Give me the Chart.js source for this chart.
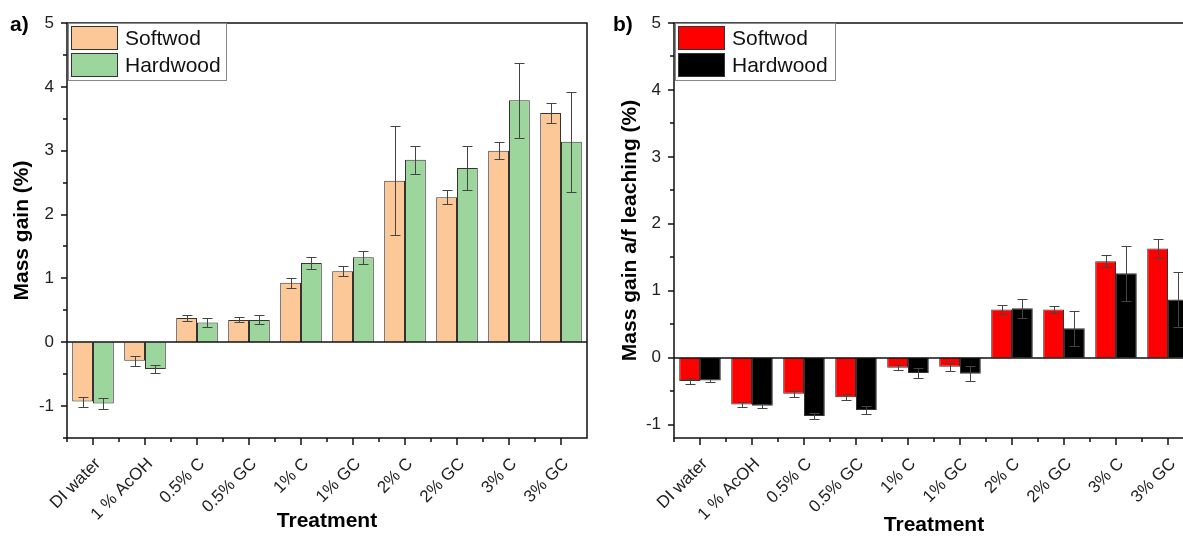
<!DOCTYPE html>
<html lang="en">
<head>
    <meta charset="UTF-8">
    <title>Mass gain by treatment</title>
    <script src="https://cdn.jsdelivr.net/npm/chart.js"></script>
    <style>
        html, body { margin: 0; padding: 0; overflow: hidden; background: #fff; width: 1183px; height: 538px; }
        canvas { position: absolute; top: 0; }
        #chartA { left: 0; }
        #chartB { left: 600px; }
    </style>
</head>
<body>
<canvas id="chartA" width="600" height="538"></canvas>
<canvas id="chartB" width="594" height="538"></canvas>

<script>
    // treatments on the x axis
    const categories = ['DI water', '1 % AcOH', '0.5% C', '0.5% GC', '1% C', '1% GC', '2% C', '2% GC', '3% C', '3% GC'];
    const seriesNames = ['Softwod', 'Hardwood'];
    const yTickLabels = [-1, 0, 1, 2, 3, 4, 5];

    // a) mass gain (%)
    const gainSoft    = [-0.93, -0.29, 0.38, 0.35, 0.93, 1.11, 2.53, 2.27, 3.00, 3.59];
    const gainSoftErr = [0.08, 0.08, 0.05, 0.04, 0.08, 0.08, 0.85, 0.11, 0.13, 0.16];
    const gainHard    = [-0.96, -0.42, 0.31, 0.35, 1.24, 1.33, 2.86, 2.73, 3.79, 3.14];
    const gainHardErr = [0.08, 0.06, 0.07, 0.07, 0.09, 0.10, 0.22, 0.34, 0.59, 0.78];

    // b) mass gain after leaching (%)
    const leachSoft    = [-0.35, -0.70, -0.54, -0.59, -0.15, -0.135, 0.72, 0.72, 1.44, 1.63];
    const leachSoftErr = [0.05, 0.04, 0.04, 0.045, 0.04, 0.06, 0.07, 0.05, 0.09, 0.14];
    const leachHard    = [-0.34, -0.72, -0.87, -0.78, -0.23, -0.24, 0.74, 0.44, 1.26, 0.87];
    const leachHardErr = [0.02, 0.03, 0.05, 0.06, 0.07, 0.11, 0.14, 0.26, 0.41, 0.41];

    const FONT = "'Liberation Sans', Arial, sans-serif";

    // frame, ticks, zero line, error bars, legend and panel letter
    const decorations = {
        id: 'decorations',
        afterDatasetsDraw(chart, args, opts) {
            const ctx = chart.ctx;
            const a = chart.chartArea;
            const x = chart.scales.x, y = chart.scales.y;
            ctx.save();

            // error bars
            chart.data.datasets.forEach((ds, i) => {
                const meta = chart.getDatasetMeta(i);
                meta.data.forEach((bar, j) => {
                    const v = ds.data[j], e = ds.errors[j];
                    const y1 = Math.round(y.getPixelForValue(v + e)), y2 = Math.round(y.getPixelForValue(v - e));
                    const bx = Math.round(bar.x) + 0.5;
                    ctx.strokeStyle = opts.errColor;
                    ctx.lineWidth = 1;
                    ctx.beginPath();
                    ctx.moveTo(bx, y1); ctx.lineTo(bx, y2);
                    ctx.moveTo(bx - 5, y1 + 0.5); ctx.lineTo(bx + 5, y1 + 0.5);
                    ctx.moveTo(bx - 5, y2 + 0.5); ctx.lineTo(bx + 5, y2 + 0.5);
                    ctx.stroke();
                });
            });

            ctx.strokeStyle = '#111';
            ctx.lineWidth = 1.5;
            // zero line
            const y0 = Math.round(y.getPixelForValue(0));
            ctx.beginPath();
            ctx.moveTo(a.left, y0); ctx.lineTo(a.right, y0);
            ctx.stroke();

            // frame
            ctx.beginPath();
            ctx.rect(a.left, a.top, a.right - a.left, a.bottom - a.top);
            ctx.stroke();

            // y ticks (major at integers, minor at halves)
            ctx.beginPath();
            for (let v = Math.ceil(y.min * 2) / 2; v <= y.max + 1e-9; v += 0.5) {
                const py = Math.round(y.getPixelForValue(v));
                const len = Math.abs(v - Math.round(v)) < 1e-6 ? 6 : 4;
                ctx.moveTo(a.left - len, py); ctx.lineTo(a.left, py);
            }
            // x ticks (major at centres, minor at boundaries)
            const n = chart.data.labels.length;
            const step = x.getPixelForValue(1) - x.getPixelForValue(0);
            for (let i = 0; i < n; i++) {
                const px = Math.round(x.getPixelForValue(i));
                ctx.moveTo(px, a.bottom); ctx.lineTo(px, a.bottom + 7);
                const bx = Math.round(px - step / 2);
                ctx.moveTo(bx, a.bottom); ctx.lineTo(bx, a.bottom + 4);
            }
            ctx.stroke();

            // legend inside top-left corner
            const lx = a.left + 1, ly = a.top;
            const lw = opts.legendWidth, rowH = 27;
            ctx.fillStyle = '#fff';
            ctx.fillRect(lx, ly, lw, rowH * 2 + 3);
            ctx.strokeStyle = '#888';
            ctx.lineWidth = 1;
            ctx.strokeRect(lx + 0.5, ly + 0.5, lw, rowH * 2 + 3);
            chart.data.datasets.forEach((ds, i) => {
                const sy = ly + 3 + i * rowH;
                ctx.fillStyle = ds.backgroundColor;
                ctx.fillRect(lx + 3, sy, 47, 24);
                ctx.strokeStyle = '#333';
                ctx.strokeRect(lx + 3.5, sy + 0.5, 46, 23);
                ctx.fillStyle = '#111';
                ctx.font = '21px ' + FONT;
                ctx.textBaseline = 'middle';
                ctx.fillText(ds.label, lx + 57, sy + 13);
            });

            // panel letter
            ctx.fillStyle = '#000';
            ctx.font = 'bold 21px ' + FONT;
            ctx.textBaseline = 'alphabetic';
            ctx.fillText(opts.letter, opts.letterX, 31);
            ctx.restore();
        }
    };

    function makeChart(id, soft, softErr, hard, hardErr, colors, yMin, yTitle, letter, letterX, yWidth, titlePad, xTitlePad, legendWidth) {
        const ctx = document.getElementById(id).getContext('2d');
        return new Chart(ctx, {
            type: 'bar',
            data: {
                labels: categories,
                datasets: [{
                    label: seriesNames[0],
                    data: soft,
                    errors: softErr,
                    backgroundColor: colors[0],
                    borderColor: '#333',
                    borderWidth: 1,
                    categoryPercentage: 0.8,
                    barPercentage: 1.0
                }, {
                    label: seriesNames[1],
                    data: hard,
                    errors: hardErr,
                    backgroundColor: colors[1],
                    borderColor: '#333',
                    borderWidth: 1,
                    categoryPercentage: 0.8,
                    barPercentage: 1.0
                }]
            },
            options: {
                responsive: false,
                animation: false,
                layout: { padding: { top: 23, right: id === 'chartA' ? 13 : 0, left: 0, bottom: 0 } },
                plugins: {
                    legend: { display: false },
                    tooltip: { enabled: false },
                    decorations: { errColor: '#444', letter: letter, letterX: letterX, legendWidth: legendWidth }
                },
                scales: {
                    x: {
                        type: 'category',
                        offset: true,
                        grid: { display: false, drawTicks: true, tickLength: 7 },
                        border: { display: false },
                        ticks: {
                            maxRotation: 45, minRotation: 45,
                            padding: 9,
                            labelOffset: 5,
                            color: '#222',
                            font: { family: FONT, size: 17 }
                        },
                        title: {
                            display: true,
                            text: 'Treatment',
                            color: '#000',
                            padding: { top: 0, bottom: xTitlePad },
                            font: { family: FONT, size: 21, weight: 'bold' }
                        },
                        afterFit(scale) { scale.height = 100; }
                    },
                    y: {
                        min: yMin,
                        max: 5,
                        grid: { display: false, drawTicks: true, tickLength: 6 },
                        border: { display: false },
                        afterBuildTicks(scale) {
                            scale.ticks = yTickLabels.map(v => ({ value: v }));
                        },
                        ticks: {
                            padding: 7,
                            color: '#222',
                            font: { family: FONT, size: 17 },
                            callback: v => String(v)
                        },
                        title: {
                            display: true,
                            text: yTitle,
                            color: '#000',
                            padding: { top: titlePad, bottom: 0 },
                            font: { family: FONT, size: 21, weight: 'bold' }
                        },
                        afterFit(scale) { scale.width = yWidth; }
                    }
                }
            },
            plugins: [decorations]
        });
    }

    makeChart('chartA', gainSoft, gainSoftErr, gainHard, gainHardErr,
        ['rgb(252,200,152)', 'rgb(156,214,156)'], -1.5, 'Mass gain (%)', 'a)', 10, 67, 10, 4, 158);
    makeChart('chartB', leachSoft, leachSoftErr, leachHard, leachHardErr,
        ['rgb(255,0,0)', 'rgb(0,0,0)'], -1.2, 'Mass gain a/f leaching (%)', 'b)', 13, 74, 18, 0, 160);
</script>
</body>
</html>
